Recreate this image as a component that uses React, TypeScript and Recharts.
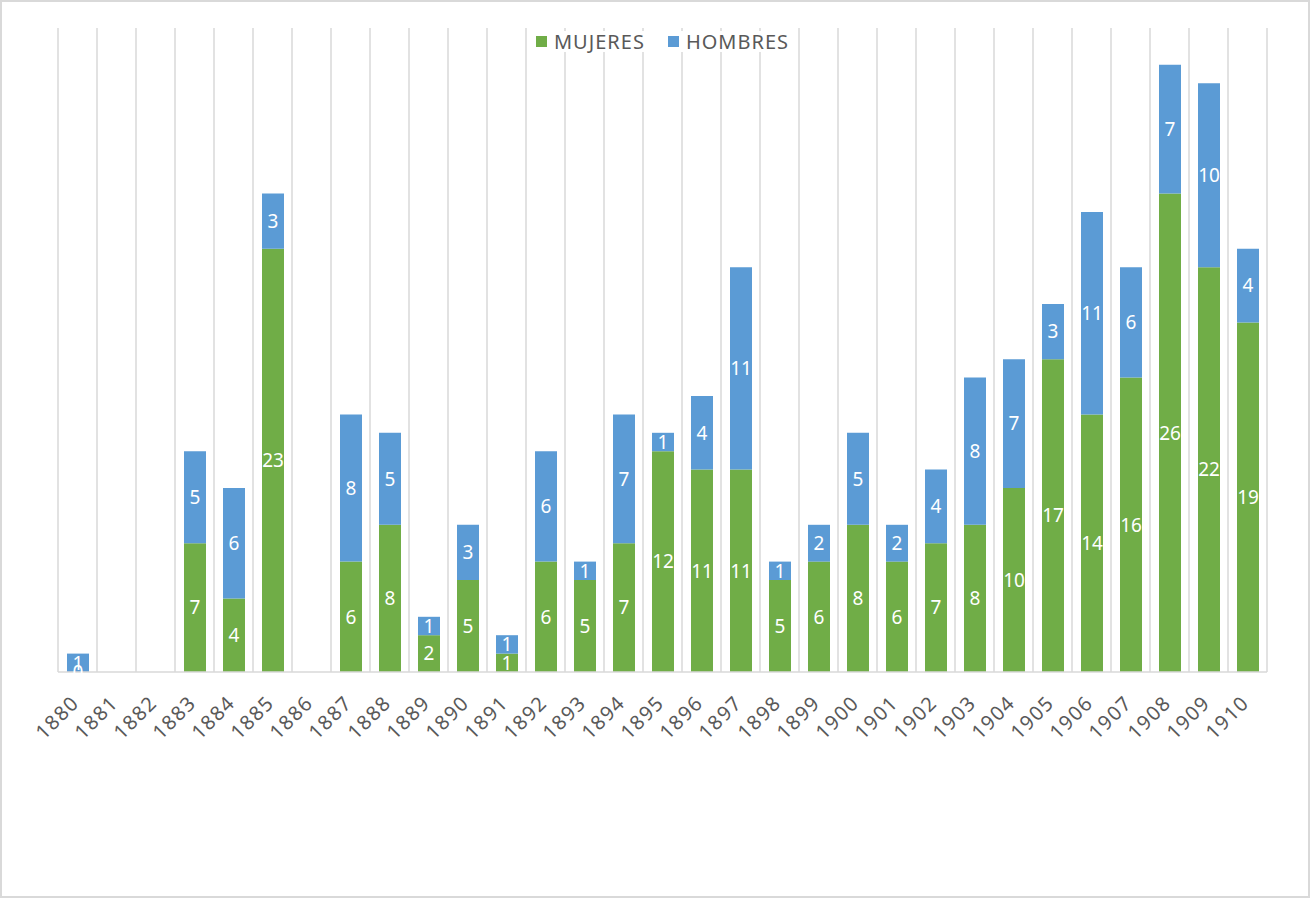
import React from "react";
import { BarChart, Bar, XAxis, YAxis, CartesianGrid, LabelList } from "recharts";

const years = [
  "1880", "1881", "1882", "1883", "1884", "1885", "1886", "1887", "1888", "1889",
  "1890", "1891", "1892", "1893", "1894", "1895", "1896", "1897", "1898", "1899",
  "1900", "1901", "1902", "1903", "1904", "1905", "1906", "1907", "1908", "1909", "1910",
];
const mujeres = [0, 0, 0, 7, 4, 23, 0, 6, 8, 2, 5, 1, 6, 5, 7, 12, 11, 11, 5, 6, 8, 6, 7, 8, 10, 17, 14, 16, 26, 22, 19];
const hombres = [1, 0, 0, 5, 6, 3, 0, 8, 5, 1, 3, 1, 6, 1, 7, 1, 4, 11, 1, 2, 5, 2, 4, 8, 7, 3, 11, 6, 7, 10, 4];

const seriesNames = ["MUJERES", "HOMBRES"];
const GREEN = "#70AD47";
const BLUE = "#5B9BD5";
const GRID = "#D9D9D9";
const TEXT = "#595959";
const FONT = "'Noto Sans', 'Open Sans', sans-serif";

const data = years.map((y, i) => ({ year: y, m: mujeres[i], h: hombres[i] }));

const W = 1310;
const H = 898;

const Tick = (props: any) => {
  const { x, y, payload } = props;
  return (
    <g transform={`translate(${x + 3},${y + 32})`}>
      <text
        x={0}
        y={0}
        textAnchor="end"
        transform="rotate(-45)"
        fill={TEXT}
        fontSize={20}
        letterSpacing={1.5}
        fontFamily={FONT}
      >
        {payload.value}
      </text>
    </g>
  );
};

const vGen = (props: any) => {
  const off = props.offset;
  const n = years.length;
  const arr: number[] = [];
  for (let i = 0; i <= n; i++) arr.push(off.left + (i * off.width) / n);
  return arr;
};

// Labels for the top series; also re-draws a zero MUJERES label above the blue bar
const HombresLabel = (props: any) => {
  const { x, y, width, height, value } = props;
  const i = years.indexOf(String(value));
  const cx = Number(x) + Number(width) / 2;
  const cy = Number(y) + Number(height) / 2;
  const bottom = Number(y) + Number(height);
  const hv = i >= 0 ? hombres[i] : value;
  const mv = i >= 0 ? mujeres[i] : null;
  return (
    <g>
      <text x={cx} y={cy} dy="0.355em" textAnchor="middle" fill="#ffffff" fontSize={19} fontFamily={FONT}>
        {hv}
      </text>
      {mv === 0 && Number(hv) > 0 ? (
        <text x={cx} y={bottom} dy="0.355em" textAnchor="middle" fill="#ffffff" fontSize={19} fontFamily={FONT}>
          {mv}
        </text>
      ) : null}
    </g>
  );
};

const yearAccessor = (entry: any) =>
  entry && entry.payload && entry.payload.year ? entry.payload.year : entry.value;

export default function App() {
  return (
    <div style={{ position: "absolute", left: 0, top: 0, width: W, height: H, background: "#fff" }}>
      <BarChart
        width={W}
        height={H}
        data={data}
        margin={{ top: 28, right: 43, bottom: 196, left: 58 }}
      >
        <CartesianGrid
          horizontal={false}
          vertical={true}
          stroke={GRID}
          strokeWidth={1.5}
          verticalCoordinatesGenerator={vGen}
        />
        <XAxis
          dataKey="year"
          height={30}
          interval={0}
          tickLine={false}
          tickSize={0}
          tickMargin={0}
          axisLine={{ stroke: GRID, strokeWidth: 1.5 }}
          tick={<Tick />}
        />
        <YAxis hide domain={[0, 35]} type="number" allowDataOverflow />
        <Bar dataKey="m" name={seriesNames[0]} stackId="s" fill={GREEN} barSize={22} isAnimationActive={false}>
          <LabelList dataKey="m" position="center" fill="#ffffff" fontSize={19} fontFamily={FONT} />
        </Bar>
        <Bar dataKey="h" name={seriesNames[1]} stackId="s" fill={BLUE} barSize={22} isAnimationActive={false}>
          <LabelList valueAccessor={yearAccessor} content={<HombresLabel />} />
        </Bar>
      </BarChart>
      <div
        style={{
          position: "absolute",
          left: 58,
          width: 1209,
          top: 31,
          display: "flex",
          justifyContent: "center",
          pointerEvents: "none",
        }}
      >
        <div
          style={{
            display: "flex",
            alignItems: "center",
            background: "#fff",
            height: 21,
            padding: "0 4px",
            fontFamily: FONT,
            fontSize: 20,
            letterSpacing: 1,
            color: TEXT,
            lineHeight: "21px",
          }}
        >
          <span style={{ display: "inline-block", width: 11, height: 11, background: GREEN, marginRight: 7 }} />
          <span>{seriesNames[0]}</span>
          <span style={{ display: "inline-block", width: 11, height: 11, background: BLUE, marginLeft: 23, marginRight: 7 }} />
          <span>{seriesNames[1]}</span>
        </div>
      </div>
      <div
        style={{
          position: "absolute",
          left: 0,
          top: 0,
          width: W,
          height: H,
          border: "2px solid #D9D9D9",
          boxSizing: "border-box",
          pointerEvents: "none",
        }}
      />
    </div>
  );
}
